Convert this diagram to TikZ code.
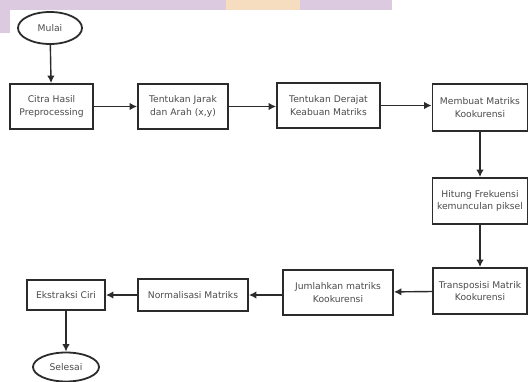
\documentclass[tikz,border=0pt]{standalone}
\usepackage{fontspec}
\setmainfont{DejaVu Sans}
\usetikzlibrary{shapes.geometric,arrows.meta}
\definecolor{ink}{HTML}{2B2B2B}
\definecolor{label}{HTML}{4A4A4A}
\definecolor{band}{HTML}{DCCBE0}
\definecolor{peach}{HTML}{F7DDBF}
\begin{document}
\begin{tikzpicture}[x=1pt,y=-1pt,
  every node/.style={font=\fontsize{9.2}{12.5}\selectfont, text=label, align=center},
  procbox/.style={draw=ink, line width=1.8pt, minimum width=#1, inner sep=1pt},
  procbox/.default=90pt,
  terminal/.style={draw=ink, line width=1.8pt, ellipse, inner sep=0pt},
  flow/.style={draw=ink, line width=1.4pt, -{Latex[length=7.5pt,width=7.5pt]}}]
\useasboundingbox (0,0) rectangle (530,382);
% soft coloured header band
\fill[band] (0,0) rectangle (392,10);
\fill[band] (0,0) rectangle (10,33);
\fill[peach] (226,0) rectangle (300,10);
% terminals
\node[terminal, minimum width=64pt, minimum height=32pt] (mulai) at (50,28) {Mulai};
\node[terminal, minimum width=66pt, minimum height=29pt] (selesai) at (66,367) {Selesai};
% process boxes, top row
\node[procbox=83pt, minimum height=45pt] (citra) at (51.5,106.5) {Citra Hasil\\Preprocessing};
\node[procbox=90pt, minimum height=45pt] (jarak) at (183,106.5) {Tentukan Jarak\\dan Arah (x,y)};
\node[procbox=103pt, minimum height=45pt] (derajat) at (328.5,105.5) {Tentukan Derajat\\Keabuan Matriks};
\node[procbox=95pt, minimum height=47pt] (membuat) at (480,107.5) {Membuat Matriks\\Kookurensi};
% right column
\node[procbox=95pt, minimum height=46pt] (hitung) at (480,201) {Hitung Frekuensi\\kemunculan piksel};
\node[procbox=94pt, minimum height=46pt] (transpos) at (480,291) {Transposisi Matrik\\Kookurensi};
% bottom row
\node[procbox=110pt, minimum height=45pt] (jumlah) at (338,292.5) {Jumlahkan matriks\\Kookurensi};
\node[procbox=110pt, minimum height=32pt] (normal) at (193,295) {Normalisasi Matriks};
\node[procbox=78pt, minimum height=30pt] (ekstraksi) at (66,295) {Ekstraksi Ciri};
% connectors
\draw[flow] (mulai) -- (citra);
\draw[flow] (citra) -- (jarak);
\draw[flow] (jarak.east) -- (derajat.west |- jarak.east);
\draw[flow] (derajat.east) -- (membuat.west |- derajat.east);
\draw[flow] (membuat) -- (hitung);
\draw[flow] (hitung) -- (transpos);
\draw[flow] (transpos) -- (jumlah);
\draw[flow] (jumlah.west |- normal.east) -- (normal.east);
\draw[flow] (normal) -- (ekstraksi);
\draw[flow] (ekstraksi) -- (selesai);
\end{tikzpicture}
\end{document}
